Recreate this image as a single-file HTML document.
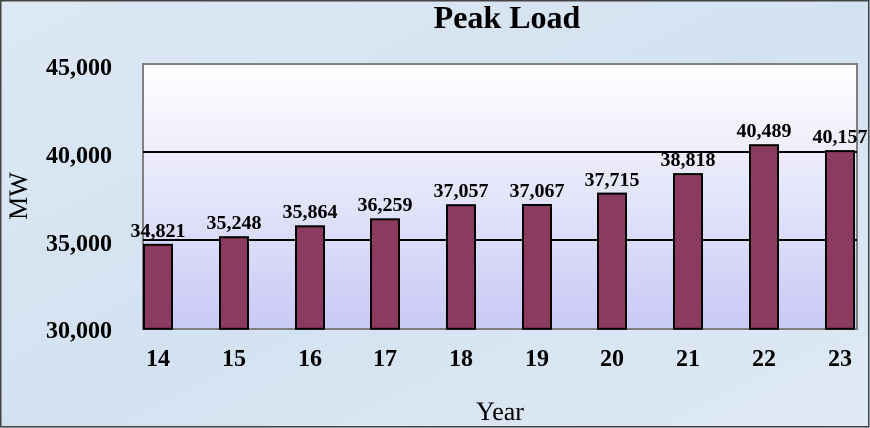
<!DOCTYPE html>
<html><head><meta charset="utf-8"><style>
html,body{margin:0;padding:0;}
body{width:870px;height:428px;overflow:hidden;background:#d9e6f3;}
svg{display:block;}
text{font-family:"Liberation Serif",serif;}
</style></head><body>
<svg width="870" height="428" viewBox="0 0 870 428" xmlns="http://www.w3.org/2000/svg">
<defs>
<linearGradient id="pg" x1="0" y1="0" x2="0" y2="1">
<stop offset="0" stop-color="#ffffff"/><stop offset="1" stop-color="#c9c9f6"/>
</linearGradient>
<linearGradient id="bg" x1="0" y1="0" x2="1" y2="1">
<stop offset="0" stop-color="#dde8f4"/><stop offset="0.5" stop-color="#d3e2f1"/><stop offset="1" stop-color="#dfe9f5"/>
</linearGradient>
</defs>
<rect x="0" y="0" width="870" height="428" fill="url(#bg)"/>
<rect x="0.75" y="0.75" width="868" height="426" fill="none" stroke="#444" stroke-width="1.5"/>
<text x="507" y="28" font-size="32" font-weight="bold" text-anchor="middle">Peak Load</text>
<rect x="143" y="64" width="714" height="265" fill="url(#pg)" stroke="#808080" stroke-width="2"/>
<line x1="143" y1="152" x2="857" y2="152" stroke="#000" stroke-width="2"/>
<line x1="143" y1="240" x2="857" y2="240" stroke="#000" stroke-width="2"/>
<g font-size="24" font-weight="bold" text-anchor="end">
<text x="112" y="75">45,000</text>
<text x="112" y="163">40,000</text>
<text x="112" y="251">35,000</text>
<text x="112" y="338">30,000</text>
</g>
<text transform="translate(27,196) rotate(-90)" font-size="26" text-anchor="middle">MW</text>
<text x="500" y="420" font-size="26" text-anchor="middle">Year</text>
<g fill="#8b3a60" stroke="#000" stroke-width="2">
<rect x="144" y="244.8" width="28" height="84"/>
<rect x="220" y="237.2" width="28" height="91.6"/>
<rect x="296" y="226.3" width="28" height="102.5"/>
<rect x="371" y="219.3" width="28" height="109.5"/>
<rect x="447" y="205.2" width="28" height="123.6"/>
<rect x="523" y="205.0" width="28" height="123.8"/>
<rect x="598" y="193.6" width="28" height="135.2"/>
<rect x="674" y="174.1" width="28" height="154.7"/>
<rect x="750" y="145.2" width="28" height="183.6"/>
<rect x="826" y="151.1" width="28" height="177.7"/>
</g>
<g font-size="20" font-weight="bold" text-anchor="middle">
<text x="158" y="237">34,821</text>
<text x="234" y="229">35,248</text>
<text x="310" y="218">35,864</text>
<text x="385" y="211">36,259</text>
<text x="461" y="197">37,057</text>
<text x="537" y="197">37,067</text>
<text x="612" y="186">37,715</text>
<text x="688" y="166">38,818</text>
<text x="764" y="137">40,489</text>
<text x="840" y="143">40,157</text>
</g>
<g font-size="24" font-weight="bold" text-anchor="middle">
<text x="158" y="366">14</text><text x="234" y="366">15</text><text x="310" y="366">16</text>
<text x="385" y="366">17</text><text x="461" y="366">18</text><text x="537" y="366">19</text>
<text x="612" y="366">20</text><text x="688" y="366">21</text><text x="764" y="366">22</text>
<text x="840" y="366">23</text>
</g>
</svg>
</body></html>
